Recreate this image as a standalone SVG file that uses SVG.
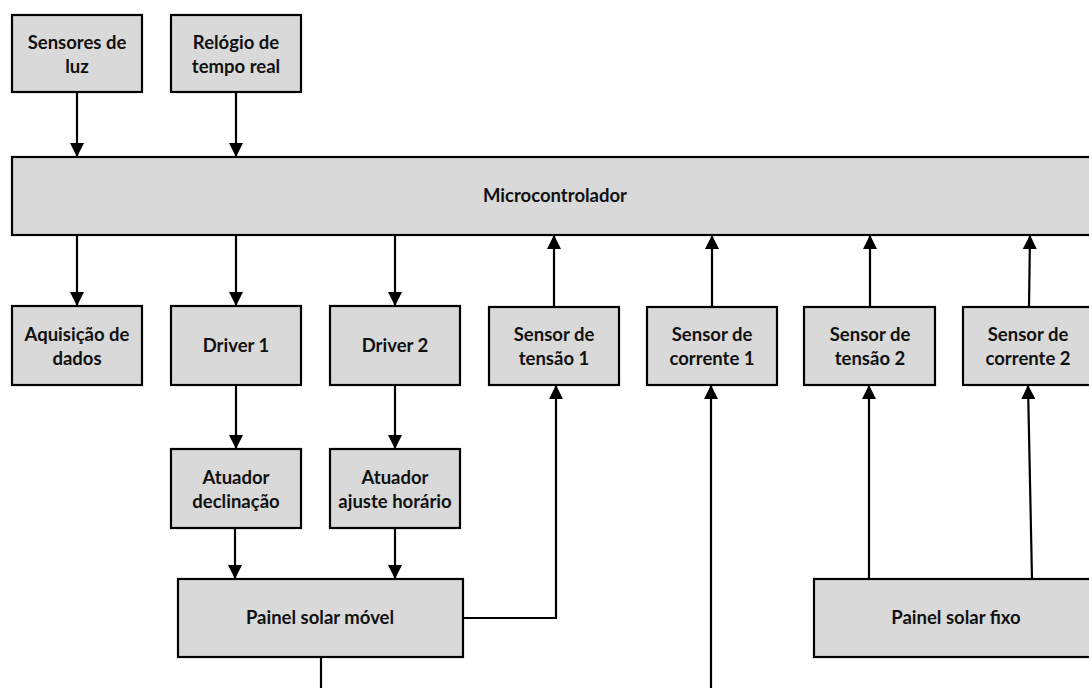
<svg xmlns="http://www.w3.org/2000/svg" width="1089" height="688" viewBox="0 0 1089 688">
<style>
.box{fill:#d9d9d9;stroke:#000;stroke-width:2.2}
.t{font-family:Lato,"Open Sans","Liberation Sans",sans-serif;font-weight:bold;font-size:18.5px;fill:#111;text-anchor:middle}
.c{fill:none;stroke:#000;stroke-width:2.2}
</style>
<defs>
<marker id="a" viewBox="0 0 10 10" refX="10" refY="5" markerWidth="6.5" markerHeight="6.5" orient="auto" markerUnits="strokeWidth">
<path d="M0,0 L10,5 L0,10 z" fill="#000"/>
</marker>
</defs>
<rect width="1089" height="688" fill="#fff"/>
<g id="connectors">
<path class="c" d="M77,92 V157" marker-end="url(#a)"/>
<path class="c" d="M236,92 V157" marker-end="url(#a)"/>
<path class="c" d="M77,235 V306" marker-end="url(#a)"/>
<path class="c" d="M236,235 V306" marker-end="url(#a)"/>
<path class="c" d="M395,235 V306" marker-end="url(#a)"/>
<path class="c" d="M554,307 V235" marker-end="url(#a)"/>
<path class="c" d="M712,307 V235" marker-end="url(#a)"/>
<path class="c" d="M870,307 V235" marker-end="url(#a)"/>
<path class="c" d="M1029,307 L1030,235" marker-end="url(#a)"/>
<path class="c" d="M236,385 V449" marker-end="url(#a)"/>
<path class="c" d="M395,385 V449" marker-end="url(#a)"/>
<path class="c" d="M235,528 V579" marker-end="url(#a)"/>
<path class="c" d="M395,528 V579" marker-end="url(#a)"/>
<path class="c" d="M463,618 H556 V385" marker-end="url(#a)"/>
<path class="c" d="M321,657 V688"/>
<path class="c" d="M711,688 V385" marker-end="url(#a)"/>
<path class="c" d="M869,579 V385" marker-end="url(#a)"/>
<path class="c" d="M1032,579 L1028,385" marker-end="url(#a)"/>
</g>
<g id="sensores-luz"><rect class="box" x="12" y="15" width="130" height="77"/><text class="t" x="77" y="49">Sensores de</text><text class="t" x="77" y="73">luz</text></g>
<g id="relogio"><rect class="box" x="171" y="15" width="130" height="77"/><text class="t" x="236" y="49">Relógio de</text><text class="t" x="236" y="73">tempo real</text></g>
<g id="microcontrolador"><rect class="box" x="12" y="157" width="1090" height="78"/><text class="t" x="555" y="202">Microcontrolador</text></g>
<g id="aquisicao"><rect class="box" x="12" y="306" width="130" height="79"/><text class="t" x="77" y="341">Aquisição de</text><text class="t" x="77" y="365">dados</text></g>
<g id="driver1"><rect class="box" x="171" y="306" width="130" height="79"/><text class="t" x="236" y="352">Driver 1</text></g>
<g id="driver2"><rect class="box" x="330" y="306" width="130" height="79"/><text class="t" x="395" y="352">Driver 2</text></g>
<g id="sensor-tensao1"><rect class="box" x="489" y="307" width="130" height="78"/><text class="t" x="554" y="341">Sensor de</text><text class="t" x="554" y="365">tensão 1</text></g>
<g id="sensor-corrente1"><rect class="box" x="647" y="307" width="130" height="78"/><text class="t" x="712" y="341">Sensor de</text><text class="t" x="712" y="365">corrente 1</text></g>
<g id="sensor-tensao2"><rect class="box" x="804" y="307" width="131" height="78"/><text class="t" x="870" y="341">Sensor de</text><text class="t" x="870" y="365">tensão 2</text></g>
<g id="sensor-corrente2"><rect class="box" x="963" y="307" width="131" height="78"/><text class="t" x="1028" y="341">Sensor de</text><text class="t" x="1028" y="365">corrente 2</text></g>
<g id="atuador-declinacao"><rect class="box" x="171" y="449" width="130" height="79"/><text class="t" x="236" y="484">Atuador</text><text class="t" x="236" y="508">declinação</text></g>
<g id="atuador-ajuste"><rect class="box" x="330" y="449" width="130" height="79"/><text class="t" x="395" y="484">Atuador</text><text class="t" x="395" y="508">ajuste horário</text></g>
<g id="painel-movel"><rect class="box" x="178" y="579" width="285" height="78"/><text class="t" x="320" y="624">Painel solar móvel</text></g>
<g id="painel-fixo"><rect class="box" x="814" y="579" width="290" height="78"/><text class="t" x="956" y="624">Painel solar fixo</text></g>
</svg>
